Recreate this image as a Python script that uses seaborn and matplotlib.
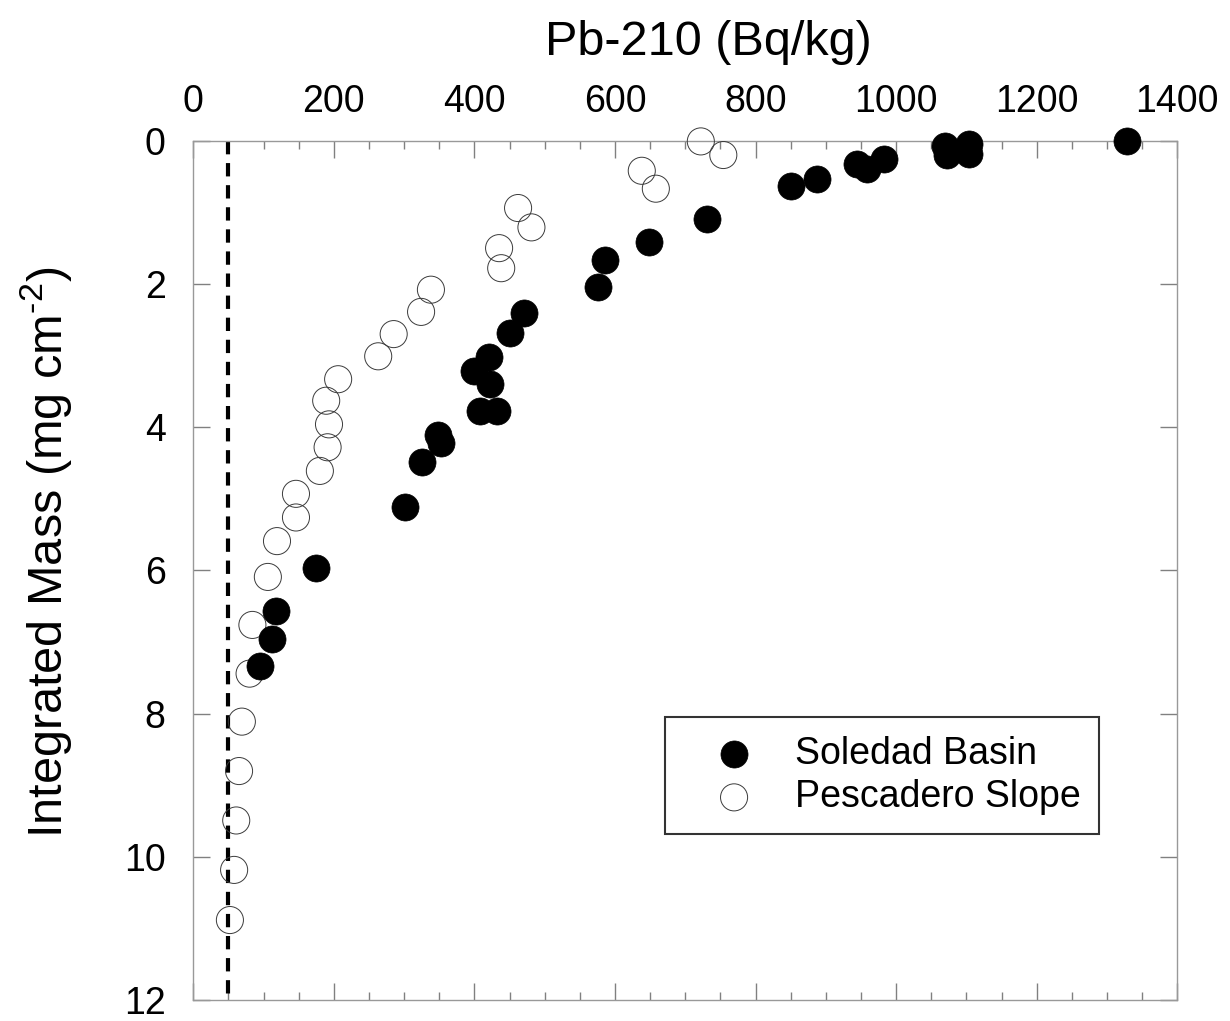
import seaborn as sns
import numpy as np
import pandas as pd
import matplotlib.pyplot as plt
from matplotlib.ticker import MultipleLocator

# Pb-210 activity (Bq/kg) against integrated mass (mg cm-2)
soledad_pb = [1328, 1104, 1103, 1069, 1072, 982, 944, 959, 887, 851, 731, 648, 586, 576,
              470, 451, 421, 399, 422, 408, 432, 348, 353, 326, 301, 174, 117, 112, 95]
soledad_mass = [0.01, 0.04, 0.18, 0.08, 0.20, 0.25, 0.32, 0.39, 0.53, 0.63, 1.10, 1.41, 1.66, 2.04,
                2.41, 2.69, 3.02, 3.21, 3.39, 3.77, 3.77, 4.11, 4.22, 4.48, 5.11, 5.97, 6.56, 6.95, 7.33]

pescadero_pb = [722, 754, 638, 658, 462, 481, 435, 438, 338, 324, 285, 263, 206, 189,
                193, 191, 180, 146, 146, 119, 106, 84, 80, 69, 65, 61, 58, 52]
pescadero_mass = [0.01, 0.20, 0.42, 0.67, 0.94, 1.21, 1.50, 1.78, 2.08, 2.39, 2.70, 3.01, 3.33, 3.63,
                  3.96, 4.28, 4.61, 4.93, 5.26, 5.59, 6.09, 6.76, 7.44, 8.11, 8.80, 9.49, 10.18, 10.88]

background_pb = 50  # supported Pb-210 (dashed line)

soledad = pd.DataFrame({'pb': soledad_pb, 'mass': soledad_mass})
pescadero = pd.DataFrame({'pb': pescadero_pb, 'mass': pescadero_mass})

sns.set_style('white')
plt.rcParams['font.family'] = ['Liberation Sans', 'DejaVu Sans']
plt.rcParams['mathtext.fontset'] = 'custom'
plt.rcParams['mathtext.rm'] = 'Liberation Sans'
plt.rcParams['text.color'] = 'black'
plt.rcParams['axes.labelcolor'] = 'black'

fig = plt.figure(figsize=(12.3, 10.21), dpi=100)
ax = fig.add_axes([0.1572, 0.0203, 0.80, 0.8419])

# vertical dashed line for background level
ax.plot([background_pb, background_pb], [0, 12], color='black', lw=3,
        linestyle=(0, (3.2, 2.1)), zorder=1)

sns.scatterplot(data=pescadero, x='pb', y='mass', ax=ax, s=380, marker='o',
                facecolors='none', edgecolor='#3a3a3a', linewidth=0.7,
                label='Pescadero Slope', clip_on=False, zorder=3)
sns.scatterplot(data=soledad, x='pb', y='mass', ax=ax, s=380, marker='o',
                color='black', edgecolor='black', linewidth=0.5,
                label='Soledad Basin', clip_on=False, zorder=4)

ax.set_xlim(0, 1400)
ax.set_ylim(12, 0)

ax.xaxis.set_major_locator(MultipleLocator(200))
ax.xaxis.set_minor_locator(MultipleLocator(50))
ax.yaxis.set_major_locator(MultipleLocator(2))

ax.xaxis.tick_top()
ax.xaxis.set_label_position('top')
ax.tick_params(axis='x', which='both', direction='in', top=True, bottom=True,
               labeltop=True, labelbottom=False, color='#808080', width=1,
               labelcolor='black')
ax.tick_params(axis='x', which='major', length=12, pad=15, labelsize=27)
ax.tick_params(axis='x', which='minor', length=6)
ax.tick_params(axis='y', which='major', direction='in', left=True, right=True,
               length=12, width=1, color='#808080', pad=20, labelsize=27,
               labelcolor='black')

for sp in ax.spines.values():
    sp.set_color('#999999')
    sp.set_linewidth(1)
    sp.set_visible(True)

ax.set_xlabel('Pb-210 (Bq/kg)', fontsize=35)
ax.set_ylabel('Integrated Mass (mg cm$^{\\text{-2}}$)', fontsize=35)
ax.xaxis.set_label_coords(0.523, 1.10)
ax.yaxis.set_label_coords(-0.120, 0.5215)

handles, labels = ax.get_legend_handles_labels()
order = [labels.index('Soledad Basin'), labels.index('Pescadero Slope')]
leg = ax.legend([handles[i] for i in order], [labels[i] for i in order],
                loc='upper left', bbox_to_anchor=(0.479, 0.3296), fontsize=27,
                frameon=True, fancybox=False, edgecolor='black', borderpad=0.5,
                handlelength=2.7, handletextpad=0.27, labelspacing=0.2,
                borderaxespad=0)
leg.get_frame().set_linewidth(1.5)

fig.savefig('out.png', dpi=100)
